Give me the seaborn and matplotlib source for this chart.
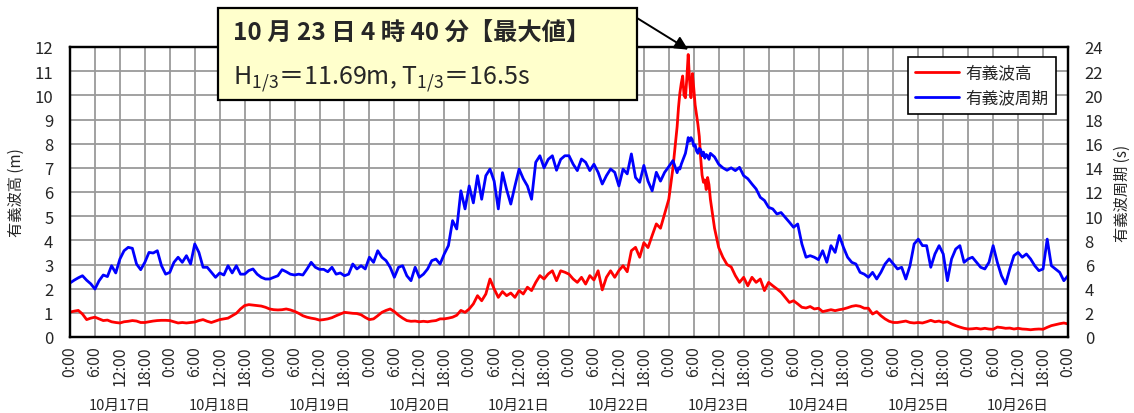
import numpy as np
import pandas as pd
import matplotlib
matplotlib.use("Agg")
import matplotlib.pyplot as plt
import matplotlib.dates as mdates
from matplotlib.patches import Rectangle
from matplotlib.ticker import FuncFormatter, MultipleLocator
from matplotlib.transforms import blended_transform_factory
import seaborn as sns

# Hourly significant wave height (m), 0:00-23:00 of each day
height_oct17 = [1.03, 1.07, 1.10, 0.95, 0.72, 0.78, 0.82, 0.75, 0.68, 0.70, 0.63, 0.60,
                0.58, 0.63, 0.65, 0.68, 0.66, 0.60, 0.60, 0.63, 0.66, 0.68, 0.69, 0.69]
height_oct18 = [0.68, 0.63, 0.58, 0.60, 0.58, 0.60, 0.62, 0.68, 0.72, 0.65, 0.60, 0.66,
                0.72, 0.75, 0.78, 0.88, 0.98, 1.16, 1.30, 1.34, 1.32, 1.30, 1.28, 1.23]
height_oct19 = [1.16, 1.13, 1.12, 1.13, 1.16, 1.12, 1.06, 0.98, 0.88, 0.82, 0.78, 0.75,
                0.70, 0.72, 0.75, 0.80, 0.88, 0.95, 1.02, 1.00, 0.98, 0.97, 0.92, 0.81]
height_oct20 = [0.72, 0.75, 0.88, 1.02, 1.10, 1.16, 1.05, 0.90, 0.78, 0.68, 0.65, 0.66,
                0.63, 0.65, 0.63, 0.66, 0.68, 0.75, 0.75, 0.78, 0.82, 0.90, 1.10, 1.02]
height_oct21 = [1.16, 1.37, 1.71, 1.50, 1.78, 2.40, 1.99, 1.64, 1.88, 1.71, 1.82, 1.64,
                1.92, 1.78, 2.06, 1.92, 2.26, 2.54, 2.40, 2.61, 2.74, 2.33, 2.74, 2.68]
height_oct22 = [2.60, 2.40, 2.26, 2.47, 2.19, 2.54, 2.36, 2.74, 1.95, 2.47, 2.74, 2.47,
                2.75, 2.95, 2.70, 3.57, 3.71, 3.30, 3.90, 3.70, 4.20, 4.68, 4.50, 5.10]
height_oct23 = [5.70, 7.00, 8.70, 10.40, 9.90, 10.60, 10.30, 8.80, 6.70, 6.10, 5.70, 4.50,
                3.70, 3.30, 3.00, 2.90, 2.54, 2.26, 2.47, 2.12, 2.47, 2.26, 2.40, 1.92]
height_oct24 = [2.26, 2.12, 1.99, 1.85, 1.64, 1.43, 1.50, 1.37, 1.23, 1.20, 1.26, 1.16,
                1.19, 1.05, 1.09, 1.13, 1.09, 1.13, 1.16, 1.21, 1.27, 1.30, 1.27, 1.19]
height_oct25 = [1.19, 0.95, 1.05, 0.88, 0.75, 0.65, 0.60, 0.60, 0.63, 0.66, 0.60, 0.58,
                0.60, 0.58, 0.63, 0.69, 0.63, 0.66, 0.60, 0.63, 0.54, 0.47, 0.41, 0.36]
height_oct26 = [0.33, 0.34, 0.36, 0.33, 0.36, 0.33, 0.32, 0.41, 0.39, 0.36, 0.37, 0.33,
                0.36, 0.33, 0.32, 0.30, 0.32, 0.33, 0.32, 0.40, 0.47, 0.51, 0.55, 0.58]
height_oct27_0000 = 0.54

# Hourly significant wave period (s), 0:00-23:00 of each day
period_oct17 = [4.47, 4.70, 4.90, 5.07, 4.70, 4.40, 3.97, 4.66, 5.13, 5.00, 5.90, 5.30,
                6.45, 7.14, 7.42, 7.34, 6.04, 5.57, 6.18, 7.00, 6.95, 7.14, 5.90, 5.20]
period_oct18 = [5.35, 6.18, 6.60, 6.18, 6.73, 6.04, 7.70, 7.00, 5.77, 5.77, 5.35, 4.94,
                5.30, 5.13, 5.90, 5.30, 5.90, 5.20, 5.20, 5.50, 5.63, 5.20, 4.94, 4.80]
period_oct19 = [4.80, 4.94, 5.07, 5.57, 5.40, 5.20, 5.13, 5.20, 5.13, 5.63, 6.18, 5.77,
                5.60, 5.60, 5.40, 5.77, 5.20, 5.30, 5.07, 5.20, 6.04, 5.63, 5.90, 5.63]
period_oct20 = [6.60, 6.18, 7.14, 6.60, 6.32, 5.77, 4.94, 5.77, 5.90, 5.07, 4.66, 5.77,
                4.94, 5.20, 5.63, 6.32, 6.45, 6.04, 6.87, 7.56, 9.63, 8.94, 12.10, 10.60]
period_oct21 = [12.50, 11.10, 13.35, 11.40, 13.35, 13.90, 12.90, 10.60, 13.60, 12.20, 11.00, 12.50,
                13.90, 13.10, 12.50, 11.40, 14.46, 15.00, 14.00, 14.70, 15.00, 13.80, 14.70, 15.00]
period_oct22 = [15.00, 14.30, 13.77, 14.73, 14.46, 13.77, 14.30, 13.63, 12.66, 13.35, 13.90, 13.63,
                12.50, 13.90, 13.50, 15.15, 13.20, 12.80, 14.20, 12.90, 12.10, 13.63, 12.90, 13.63]
period_oct23 = [14.10, 14.60, 13.60, 14.30, 15.20, 16.20, 15.80, 15.20, 15.00, 15.10, 15.20, 14.90,
                14.30, 14.00, 13.80, 14.00, 13.77, 14.04, 13.35, 13.10, 12.66, 12.25, 11.56, 11.30]
period_oct24 = [10.73, 10.60, 10.18, 10.30, 9.90, 9.50, 9.08, 9.35, 7.70, 6.60, 6.73, 6.60,
                6.40, 7.14, 6.18, 7.56, 7.00, 8.40, 7.42, 6.60, 6.18, 6.04, 5.35, 5.20]
period_oct25 = [4.94, 5.35, 4.80, 5.35, 6.04, 6.46, 6.04, 5.63, 5.77, 4.80, 5.90, 7.70,
                8.10, 7.56, 7.56, 5.77, 6.87, 7.56, 6.87, 4.66, 6.46, 7.28, 7.56, 6.18]
period_oct26 = [6.46, 6.60, 6.18, 5.77, 5.63, 6.18, 7.56, 6.18, 5.07, 4.39, 5.63, 6.73,
                7.00, 6.60, 6.87, 6.46, 5.90, 5.49, 5.63, 8.10, 5.90, 5.63, 5.35, 4.66]
period_oct27_0000 = 5.07

# 20-minute records through the storm peak on Oct 23, 2:00-10:00
peak_day = "2017-10-23"
peak_clock = ["02:00", "02:20", "02:40", "03:00", "03:20", "03:40", "04:00", "04:20", "04:40",
              "05:00", "05:20", "05:40", "06:00", "06:20", "06:40", "07:00", "07:20", "07:40",
              "08:00", "08:20", "08:40", "09:00", "09:20", "09:40", "10:00"]
peak_height = [8.70, 9.50, 10.10, 10.50, 10.80, 10.00, 9.90, 10.70, 11.69,
               10.60, 9.90, 10.90, 10.30, 9.60, 9.20, 8.80, 8.30, 7.40,
               6.70, 6.40, 6.50, 6.10, 6.60, 6.30, 5.70]
peak_period = [13.60, 14.00, 13.90, 14.30, 14.60, 14.90, 15.20, 15.80, 16.50,
               16.20, 16.50, 16.30, 15.80, 15.90, 15.40, 15.20, 15.60, 15.50,
               15.00, 15.30, 14.80, 15.10, 15.00, 14.70, 15.20]

day_names = ["10月17日", "10月18日", "10月19日", "10月20日", "10月21日",
             "10月22日", "10月23日", "10月24日", "10月25日", "10月26日"]
height_label = "有義波高"
period_label = "有義波周期"

# ---- assemble the time series ----
height_hourly = (height_oct17 + height_oct18 + height_oct19 + height_oct20 + height_oct21 +
                 height_oct22 + height_oct23 + height_oct24 + height_oct25 + height_oct26 +
                 [height_oct27_0000])
period_hourly = (period_oct17 + period_oct18 + period_oct19 + period_oct20 + period_oct21 +
                 period_oct22 + period_oct23 + period_oct24 + period_oct25 + period_oct26 +
                 [period_oct27_0000])
start = pd.Timestamp("2017-10-17 00:00")
end = pd.Timestamp("2017-10-27 00:00")
hourly = pd.DataFrame({
    "time": pd.date_range(start, end, freq="h"),
    "height": height_hourly,
    "period": period_hourly,
})
peak = pd.DataFrame({
    "time": pd.to_datetime([f"{peak_day} {c}" for c in peak_clock]),
    "height": peak_height,
    "period": peak_period,
})
outside = (hourly["time"] < peak["time"].min()) | (hourly["time"] > peak["time"].max())
df = pd.concat([hourly[outside], peak]).sort_values("time").reset_index(drop=True)

imax = df["height"].idxmax()
t_max = df.loc[imax, "time"]
h_max = df.loc[imax, "height"]
p_max = df.loc[imax, "period"]

# ---- style ----
sns.set_style("white")
jp = ["Noto Sans CJK JP", "DejaVu Sans"]
plt.rcParams["font.family"] = jp
plt.rcParams["axes.unicode_minus"] = False

W, H = 1134, 414
fig = plt.figure(figsize=(W / 100, H / 100), dpi=100)
ax = fig.add_axes([70 / W, 1 - 338 / H, 998 / W, 290 / H])
ax2 = ax.twinx()

sns.lineplot(data=df, x="time", y="height", ax=ax, color="#FF0000", linewidth=2.0,
             estimator=None, label=height_label, legend=False)
sns.lineplot(data=df, x="time", y="period", ax=ax2, color="#0000FF", linewidth=2.0,
             estimator=None, label=period_label, legend=False)

ax.set_xlim(start, end)
ax.set_ylim(0, 12)
ax2.set_ylim(0, 24)
ax.yaxis.set_major_locator(MultipleLocator(1))
ax2.yaxis.set_major_locator(MultipleLocator(2))

ax.xaxis.set_major_locator(mdates.HourLocator(byhour=[0, 6, 12, 18]))
ax.xaxis.set_minor_locator(mdates.HourLocator(byhour=range(0, 24, 3)))
ax.xaxis.set_major_formatter(FuncFormatter(
    lambda v, pos: f"{mdates.num2date(v).hour}:{mdates.num2date(v).minute:02d}"))

grid_kw = dict(color="#9a9a9a", linewidth=1.3)
ax.grid(True, which="major", axis="both", **grid_kw)
ax.set_axisbelow(True)

ax.tick_params(axis="x", which="both", direction="in", length=4, width=1.2,
               color="black", labelsize=11.5, labelrotation=90, pad=6)
ax.tick_params(axis="y", length=0, labelsize=12, pad=12)
ax2.tick_params(axis="y", length=0, labelsize=12, pad=12)
for lbl in ax.get_xticklabels():
    lbl.set_va("top")

for a in (ax, ax2):
    for s in a.spines.values():
        s.set_color("black")
        s.set_linewidth(1.6)

ax.set_xlabel("")
ax.set_ylabel("有義波高 (m)", fontsize=11)
ax2.set_ylabel("有義波周期 (s)", fontsize=11)
ax.yaxis.set_label_coords(-0.045, 0.5)
ax2.yaxis.set_label_coords(1.046, 0.5)

# day names centred under each day
trans = blended_transform_factory(ax.transData, fig.transFigure)
for i, name in enumerate(day_names):
    noon = start + pd.Timedelta(days=i, hours=12)
    ax.text(mdates.date2num(noon), 1 - 406 / H, name, transform=trans,
            ha="center", va="center", fontsize=10.5)

# legend
handles = [ax.get_lines()[0], ax2.get_lines()[0]]
leg = ax2.legend(handles, [height_label, period_label], loc="upper right",
                 bbox_to_anchor=(0.988, 0.966), borderaxespad=0, fancybox=False,
                 edgecolor="black", framealpha=1, fontsize=12, handlelength=2.6,
                 handletextpad=0.4, labelspacing=0.5, borderpad=0.45)
leg.get_frame().set_linewidth(1.2)

# peak callout box
bx0, by0, bx1, by1 = 218, 9, 637, 101
fig.add_artist(Rectangle((bx0 / W, 1 - by1 / H), (bx1 - bx0) / W, (by1 - by0) / H,
                         transform=fig.transFigure, facecolor="#FFFFCC",
                         edgecolor="black", linewidth=1.6, zorder=10))
line1 = f"{t_max.month} 月 {t_max.day} 日 {t_max.hour} 時 {t_max.minute} 分【最大値】"
line2 = (r"$\mathregular{H_{1/3}}$＝" + f"{h_max:.2f}m, "
         + r"$\mathregular{T_{1/3}}$＝" + f"{p_max:.1f}s")
fig.text(233 / W, 1 - 34 / H, line1, ha="left", va="center", fontsize=17.5,
         fontweight="bold", zorder=11)
fig.text(233 / W, 1 - 79 / H, line2, ha="left", va="center", fontsize=18, zorder=11)

ax2.annotate("", xy=(mdates.date2num(t_max), h_max * 2 + 0.4), xycoords="data",
             xytext=(bx1 / W, 1 - 19 / H), textcoords="figure fraction",
             arrowprops=dict(arrowstyle="-|>", color="black", lw=1.4,
                             mutation_scale=20, shrinkA=0, shrinkB=0),
             annotation_clip=False, zorder=12)

fig.savefig("out.png", dpi=100)
